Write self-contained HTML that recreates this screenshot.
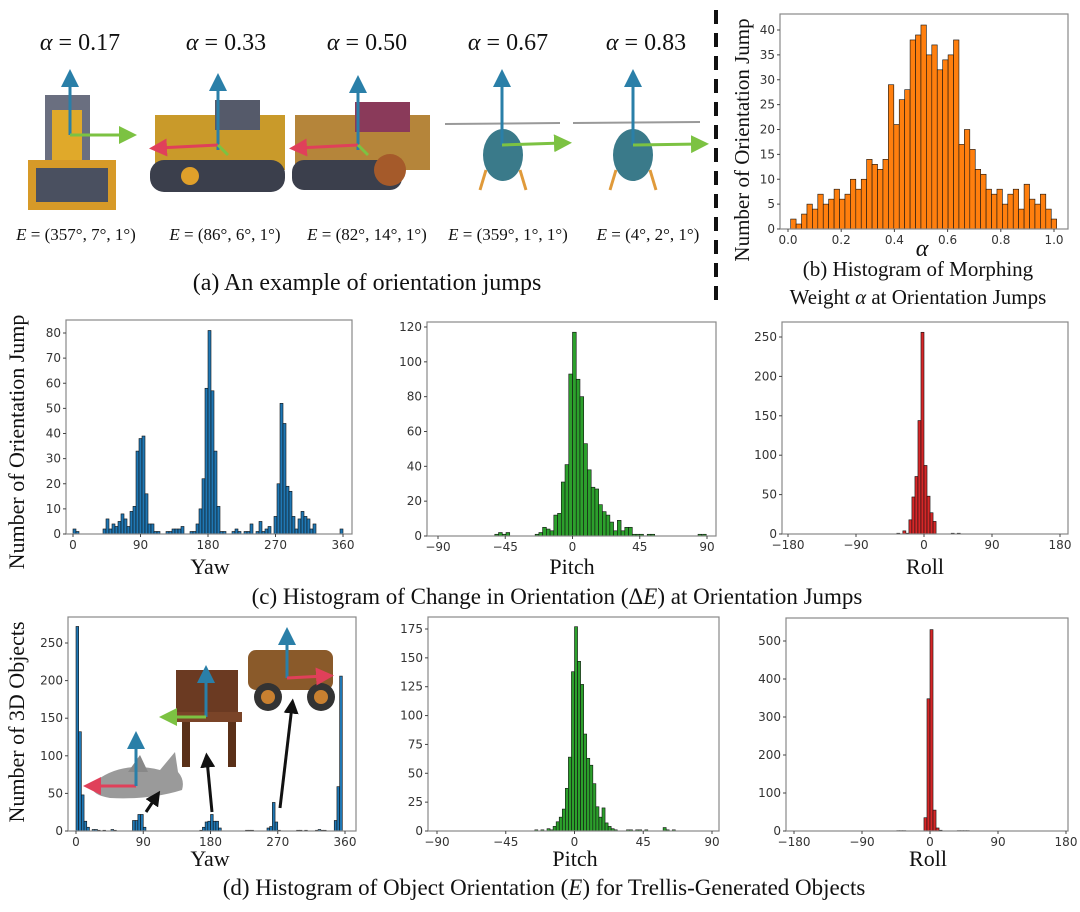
<!DOCTYPE html>
<html><head><meta charset="utf-8"><style>
html,body{margin:0;padding:0;background:#fff;}
svg{display:block;}
.tk{font-family:"DejaVu Sans",sans-serif;font-size:12px;fill:#333;}
.ser{font-family:"Liberation Serif",serif;fill:#111;}
</style></head><body>
<svg id="s" width="1080" height="912" viewBox="0 0 1080 912" xmlns="http://www.w3.org/2000/svg">
<defs>
<marker id="ab" markerWidth="6" markerHeight="6" refX="3" refY="3" orient="auto"><path d="M0,0 L6,3 L0,6z" fill="#2a7fa8"/></marker>
<marker id="ag" markerWidth="6" markerHeight="6" refX="3" refY="3" orient="auto"><path d="M0,0 L6,3 L0,6z" fill="#7cc242"/></marker>
<marker id="ar" markerWidth="6" markerHeight="6" refX="3" refY="3" orient="auto"><path d="M0,0 L6,3 L0,6z" fill="#e0405a"/></marker>
<marker id="ak" markerWidth="5" markerHeight="5" refX="2.5" refY="2.5" orient="auto"><path d="M0,0 L5,2.5 L0,5z" fill="#111"/></marker>
</defs>
<!-- (a) -->
<g class="ser" font-size="24" text-anchor="middle">
<text x="80" y="50"><tspan font-style="italic">α</tspan> = 0.17</text>
<text x="226" y="50"><tspan font-style="italic">α</tspan> = 0.33</text>
<text x="367" y="50"><tspan font-style="italic">α</tspan> = 0.50</text>
<text x="508" y="50"><tspan font-style="italic">α</tspan> = 0.67</text>
<text x="646" y="50"><tspan font-style="italic">α</tspan> = 0.83</text>
</g>
<g>
<rect x="45" y="95" width="45" height="70" fill="#6a6f80"/><rect x="52" y="110" width="30" height="50" fill="#e0a92a"/>
<rect x="28" y="160" width="88" height="50" fill="#d79a28"/><rect x="36" y="168" width="72" height="34" fill="#4a5060"/>
<rect x="155" y="115" width="130" height="55" fill="#c99a2a"/><rect x="215" y="100" width="45" height="30" fill="#555a6a"/>
<rect x="150" y="160" width="135" height="32" rx="14" fill="#3b3f4c"/><circle cx="190" cy="176" r="9" fill="#e0a02a"/>
<rect x="295" y="115" width="135" height="55" fill="#b5853a"/><rect x="355" y="102" width="55" height="30" fill="#8a3a5a"/>
<rect x="292" y="160" width="110" height="30" rx="12" fill="#3b3f4c"/><circle cx="390" cy="170" r="16" fill="#a55a2a"/>
<line x1="445" y1="124" x2="560" y2="123" stroke="#999" stroke-width="2"/>
<ellipse cx="503" cy="155" rx="20" ry="26" fill="#3a7a8a"/><path d="M486,170 L480,190 M520,170 L526,190" stroke="#e09a3a" stroke-width="3"/>
<line x1="573" y1="123" x2="700" y2="122" stroke="#999" stroke-width="2"/>
<ellipse cx="633" cy="155" rx="20" ry="26" fill="#3a7a8a"/><path d="M616,170 L610,190 M650,170 L656,190" stroke="#e09a3a" stroke-width="3"/>
<g stroke-width="3" fill="none">
<line x1="70" y1="135" x2="70" y2="78" stroke="#2a7fa8" marker-end="url(#ab)"/><line x1="70" y1="135" x2="128" y2="135" stroke="#7cc242" marker-end="url(#ag)"/>
<line x1="218" y1="150" x2="218" y2="82" stroke="#2a7fa8" marker-end="url(#ab)"/><line x1="218" y1="145" x2="158" y2="148" stroke="#e0405a" marker-end="url(#ar)"/><line x1="218" y1="145" x2="228" y2="155" stroke="#7cc242"/>
<line x1="358" y1="150" x2="358" y2="84" stroke="#2a7fa8" marker-end="url(#ab)"/><line x1="358" y1="145" x2="298" y2="148" stroke="#e0405a" marker-end="url(#ar)"/><line x1="358" y1="145" x2="368" y2="155" stroke="#7cc242"/>
<line x1="502" y1="145" x2="502" y2="78" stroke="#2a7fa8" marker-end="url(#ab)"/><line x1="502" y1="145" x2="563" y2="143" stroke="#7cc242" marker-end="url(#ag)"/>
<line x1="633" y1="145" x2="633" y2="78" stroke="#2a7fa8" marker-end="url(#ab)"/><line x1="633" y1="145" x2="700" y2="144" stroke="#7cc242" marker-end="url(#ag)"/>
</g>
</g>
<g class="ser" font-size="17" text-anchor="middle">
<text x="76" y="240"><tspan font-style="italic">E</tspan> = (357°, 7°, 1°)</text>
<text x="225" y="240"><tspan font-style="italic">E</tspan> = (86°, 6°, 1°)</text>
<text x="367" y="240"><tspan font-style="italic">E</tspan> = (82°, 14°, 1°)</text>
<text x="508" y="240"><tspan font-style="italic">E</tspan> = (359°, 1°, 1°)</text>
<text x="648" y="240"><tspan font-style="italic">E</tspan> = (4°, 2°, 1°)</text>
</g>
<text class="ser" x="367" y="290" font-size="24" text-anchor="middle">(a) An example of orientation jumps</text>
<line x1="716" y1="10" x2="716" y2="300" stroke="#111" stroke-width="4" stroke-dasharray="14,9"/>
<text class="ser" font-size="21" text-anchor="middle" transform="translate(749,140) rotate(-90)">Number of Orientation Jump</text>
<text class="ser" x="922" y="256" font-size="24" font-style="italic" text-anchor="middle">α</text>
<text class="ser" x="918" y="276" font-size="21" text-anchor="middle">(b) Histogram of Morphing</text>
<text class="ser" x="918" y="304" font-size="21" text-anchor="middle">Weight <tspan font-style="italic">α</tspan> at Orientation Jumps</text>
<text class="ser" font-size="22" text-anchor="middle" transform="translate(24,442) rotate(-90)">Number of Orientation Jump</text>
<text class="ser" x="210" y="574" font-size="22" text-anchor="middle">Yaw</text>
<text class="ser" x="572" y="574" font-size="22" text-anchor="middle">Pitch</text>
<text class="ser" x="925" y="574" font-size="22" text-anchor="middle">Roll</text>
<text class="ser" x="557" y="604" font-size="23" text-anchor="middle">(c) Histogram of Change in Orientation (Δ<tspan font-style="italic">E</tspan>) at Orientation Jumps</text>
<text class="ser" font-size="22" text-anchor="middle" transform="translate(24,722) rotate(-90)">Number of 3D Objects</text>
<text class="ser" x="210" y="866" font-size="22" text-anchor="middle">Yaw</text>
<text class="ser" x="575" y="866" font-size="22" text-anchor="middle">Pitch</text>
<text class="ser" x="928" y="866" font-size="22" text-anchor="middle">Roll</text>
<text class="ser" x="544" y="895" font-size="23" text-anchor="middle">(d) Histogram of Object Orientation (<tspan font-style="italic">E</tspan>) for Trellis-Generated Objects</text>
<g id="plots"></g>
<g id="over"></g>
</svg>
<script>
var NS="http://www.w3.org/2000/svg";
var P=document.getElementById('plots');
function el(t,a,p,txt){var e=document.createElementNS(NS,t);for(var k in a)e.setAttribute(k,a[k]);if(txt!==undefined)e.textContent=txt;(p||P).appendChild(e);return e;}
function hist(o){
 var fx=function(v){return o.xp0+(v-o.xv0)*(o.xp1-o.xp0)/(o.xv1-o.xv0);};
 var fy=function(v){return o.y1-v*(o.y1-o.ytp)/o.ytv;};
 o.bars.forEach(function(b){if(b[2]<=0)return;var x=fx(b[0]),w=fx(b[0]+b[1])-x,y=fy(b[2]);
  el('rect',{x:x,y:y,width:w,height:o.y1-y,fill:o.c,stroke:'#111','stroke-width':0.6});});
 el('rect',{x:o.x0,y:o.y0,width:o.x1-o.x0,height:o.y1-o.y0,fill:'none',stroke:'#888','stroke-width':1.2});
 o.yt.forEach(function(v){var y=fy(v);el('line',{x1:o.x0-3,y1:y,x2:o.x0,y2:y,stroke:'#444'});
  el('text',{x:o.x0-5,y:y+4,'text-anchor':'end','class':'tk'},null,String(v));});
 o.xt.forEach(function(v){var x=fx(v);el('line',{x1:x,y1:o.y1,x2:x,y2:o.y1+3,stroke:'#444'});
  el('text',{x:x,y:o.y1+15,'text-anchor':'middle','class':'tk'},null,o.fmt?o.fmt(v):String(v).replace('-','−'));});
}
function seq(start,w,vals){return vals.map(function(v,i){return [start+i*w,w,v];});}
function rng(a,b,s){var r=[];for(var v=a;v<=b+1e-9;v+=s)r.push(Math.round(v*100)/100);return r;}
var bv=[2,1,3,5,4,7,5,6,8,6,7,10,8,10,14,13,12,14,29,21,26,28,38,39,41,35,37,32,34,35,38,17,20,16,12,11,8,7,8,5,7,8,4,9,6,5,7,4,2];
hist({x0:780,x1:1068,y0:14,y1:229,xv0:0,xp0:788,xv1:1,xp1:1054,ytv:40,ytp:30,c:'#ff7f0e',
 bars:seq(0.01,1/49,bv),yt:rng(0,40,5),xt:[0,0.2,0.4,0.6,0.8,1.0],fmt:function(v){return v.toFixed(1);}});
var cy=[2,6,2,4,3,5,8,6,3,9,11,33,38,39,16,4,4,1,1,0,0,1,1,2,2,2,3,0,0,1,1,4,10,22,58,81,57,33,11,1,1,0,0,1,2,1,0,1,1,4,0,1,5,1,2,3,0,7,20,52,44,19,17,7,2,6,9,7,6,2,4];
hist({x0:66,x1:352,y0:320,y1:534,xv0:0,xp0:73,xv1:360,xp1:343,ytv:80,ytp:333,c:'#1f77b4',
 bars:[[0,4,2],[4,4,1],[356,4,2]].concat(seq(40,4,cy)),yt:rng(0,80,10),xt:[0,90,180,270,360]});
var cp=[1,2,5,4,3,12,13,31,41,93,117,90,80,53,38,28,27,18,14,12,8,3,9,3,5,5,1,1,1,0,1,1];
hist({x0:427,x1:716,y0:322,y1:536,xv0:-90,xp0:438,xv1:90,xp1:707,ytv:120,ytp:327,c:'#2ca02c',
 bars:seq(-25,2.5,cp).concat([[-52,2.5,1],[-49.5,2.5,2],[-47,2.5,1],[-44.5,2.5,2],[84,2.5,1],[87,2.5,1]]),yt:rng(0,120,20),xt:[-90,-45,0,45,90]});
var cr=[18,47,73,144,256,87,48,27,16];
hist({x0:782,x1:1068,y0:322,y1:534,xv0:-180,xp0:788,xv1:180,xp1:1060,ytv:250,ytp:337,c:'#d62728',
 bars:seq(-20,4,cr).concat([[-36,4,1],[-28,4,4],[-24,4,1],[36,4,1],[44,4,1]]),yt:rng(0,250,50),xt:[-180,-90,0,90,180]});
var dy=[];for(var i=0;i<100;i++)dy.push(0);
var set={0:272,1:132,2:48,3:13,4:5,6:2,7:2,8:1,10:1,13:2,14:1,21:14,22:14,23:22,24:22,25:5,46:1,47:5,48:12,49:13,50:22,51:13,52:13,53:4,63:1,64:1,65:1,71:4,72:6,73:38,74:12,75:1,82:1,83:1,85:1,89:1,90:2,91:1,92:1,96:14,97:59,98:206};
for(var k in set)dy[k]=set[k];
hist({x0:68,x1:356,y0:617,y1:831,xv0:0,xp0:76,xv1:360,xp1:345,ytv:250,ytp:643,c:'#1f77b4',
 bars:seq(0,3.6,dy),yt:rng(0,250,50),xt:[0,90,180,270,360]});
var dp=[1,0,1,0,2,1,4,8,12,19,37,64,138,177,147,127,84,63,57,41,21,12,20,7,4,2,1,0,0,0,1,1,0,1,1,0,1];
hist({x0:428,x1:719,y0:617,y1:831,xv0:-90,xp0:437,xv1:90,xp1:712,ytv:175,ytp:629,c:'#2ca02c',
 bars:seq(-26,2,dp).concat([[58,2,3],[60,2,1],[64,2,1]]),yt:rng(0,175,25),xt:[-90,-45,0,45,90]});
hist({x0:786,x1:1068,y0:618,y1:831,xv0:-180,xp0:794,xv1:180,xp1:1066,ytv:500,ytp:641,c:'#d62728',
 bars:seq(-8,4,[35,348,530,55,8,2]).concat([[-44,4,1],[-40,4,1],[-36,4,1],[36,4,1],[40,4,1],[44,4,1],[48,4,1]]),yt:rng(0,500,100),xt:[-180,-90,0,90,180]});
var O=document.getElementById('over');
el('path',{d:'M92,784 Q120,760 160,770 L175,752 L178,772 Q185,780 182,790 Q150,800 110,798 Q90,795 92,784z',fill:'#9a9a9a'},O);
el('path',{d:'M128,772 L140,755 L148,772z',fill:'#888'},O);
el('line',{x1:136,y1:786,x2:92,y2:786,stroke:'#e0405a','stroke-width':3,'marker-end':'url(#ar)'},O);
el('line',{x1:136,y1:786,x2:136,y2:740,stroke:'#2a7fa8','stroke-width':3,'marker-end':'url(#ab)'},O);
el('line',{x1:146,y1:812,x2:156,y2:797,stroke:'#111','stroke-width':3,'marker-end':'url(#ak)'},O);
el('rect',{x:176,y:670,width:62,height:42,fill:'#6b3a22'},O);
el('rect',{x:174,y:712,width:68,height:10,fill:'#7a4428'},O);
el('rect',{x:182,y:722,width:8,height:45,fill:'#5a3018'},O);el('rect',{x:228,y:722,width:8,height:45,fill:'#5a3018'},O);
el('line',{x1:206,y1:717,x2:206,y2:674,stroke:'#2a7fa8','stroke-width':3,'marker-end':'url(#ab)'},O);
el('line',{x1:206,y1:717,x2:168,y2:717,stroke:'#7cc242','stroke-width':3,'marker-end':'url(#ag)'},O);
el('line',{x1:212,y1:812,x2:207,y2:760,stroke:'#111','stroke-width':3,'marker-end':'url(#ak)'},O);
el('rect',{x:248,y:650,width:85,height:40,rx:8,fill:'#8a5a2a'},O);
el('circle',{cx:268,cy:697,r:14,fill:'#333'},O);el('circle',{cx:268,cy:697,r:7,fill:'#c88030'},O);
el('circle',{cx:321,cy:697,r:14,fill:'#333'},O);el('circle',{cx:321,cy:697,r:7,fill:'#c88030'},O);
el('line',{x1:287,y1:678,x2:287,y2:636,stroke:'#2a7fa8','stroke-width':3,'marker-end':'url(#ab)'},O);
el('line',{x1:287,y1:678,x2:325,y2:676,stroke:'#e0405a','stroke-width':3,'marker-end':'url(#ar)'},O);
el('line',{x1:280,y1:808,x2:292,y2:706,stroke:'#111','stroke-width':3,'marker-end':'url(#ak)'},O);
</script>
</body></html>
